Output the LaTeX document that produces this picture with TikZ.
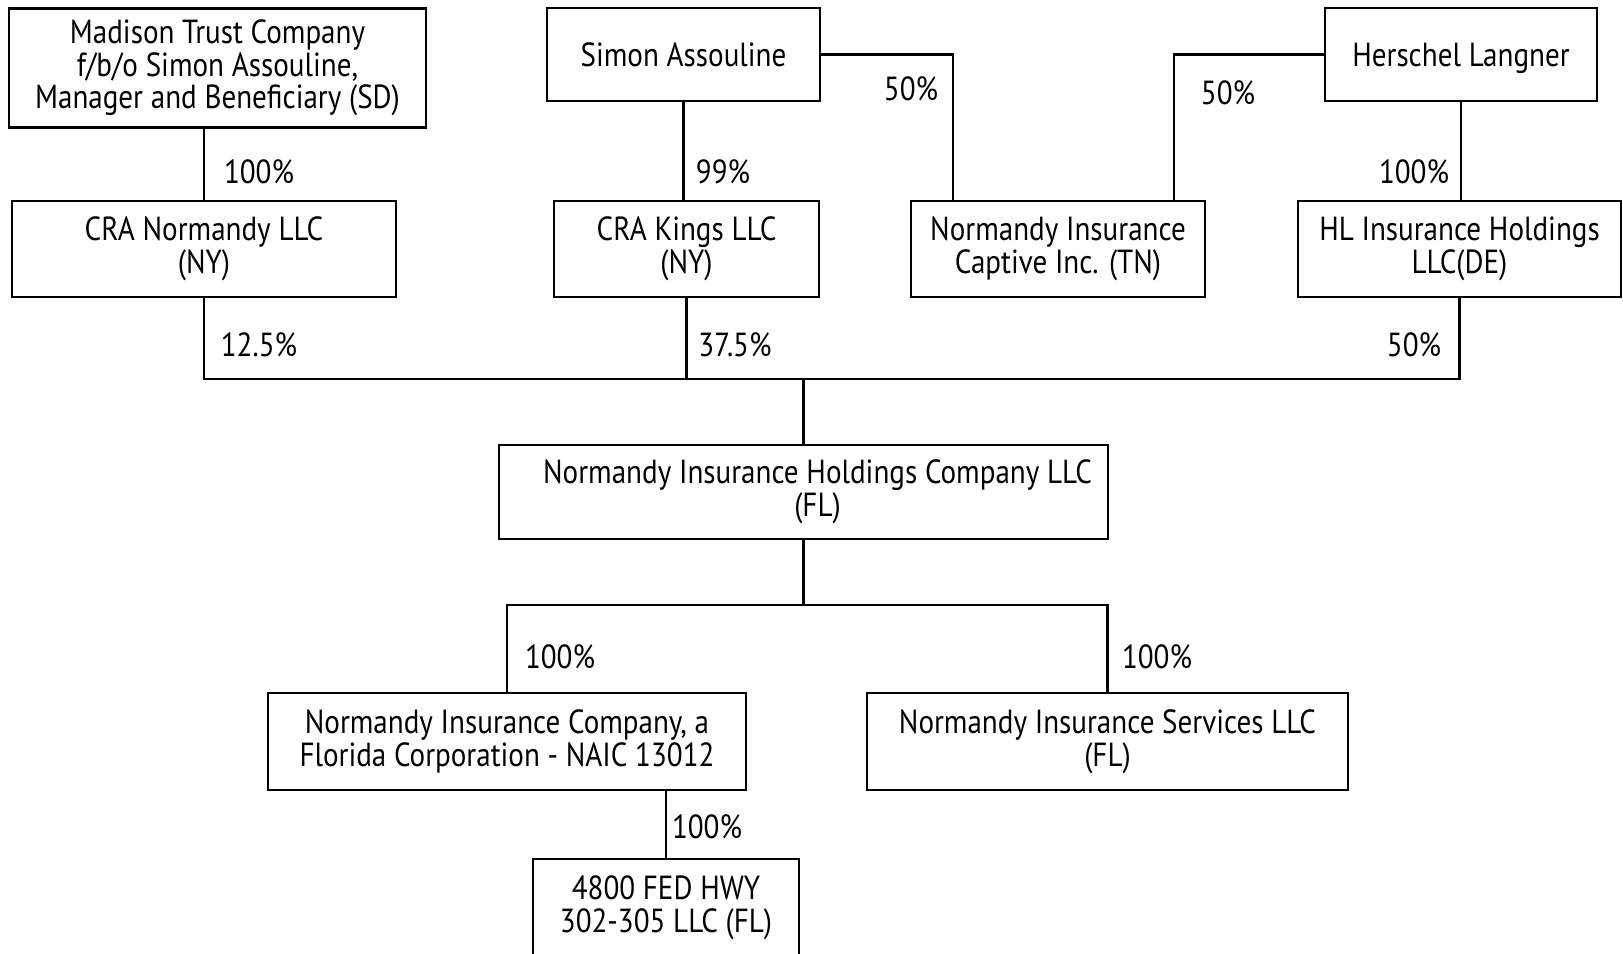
\documentclass[tikz,border=0pt]{standalone}
\usepackage{fontspec}
\setmainfont{PT Sans}[FakeStretch=0.87]
\usetikzlibrary{calc}

\begin{document}
\begin{tikzpicture}[x=0.01cm, y=-0.01cm]
\tikzset{boite/.style={draw, line width=0.7pt, align=center, inner sep=0pt,
    font=\fontsize{9.5}{9.3}\selectfont},
  pct/.style={font=\fontsize{9.5}{9.3}\selectfont, inner sep=0pt}}
\useasboundingbox (0,0) rectangle (1623,954);
% owners
\node[boite, minimum width=4.17cm, minimum height=1.19cm] (MT) at (217.5,68) {Madison Trust Company\\ f/b/o Simon Assouline,\\ Manager and Beneficiary (SD)};
\node[boite, minimum width=2.73cm, minimum height=0.93cm] (SA) at (683.5,54.5) {Simon Assouline};
\node[boite, minimum width=2.72cm, minimum height=0.93cm, text depth=0pt] (HLG) at (1461,54.5) {Herschel Langner};
% second row
\node[boite, minimum width=3.84cm, minimum height=0.96cm] (CN) at (204,249) {CRA Normandy LLC\\ (NY)};
\node[boite, minimum width=2.65cm, minimum height=0.96cm] (CK) at (686.5,249) {CRA Kings LLC\\ (NY)};
\node[boite, minimum width=2.94cm, minimum height=0.96cm] (NC) at (1058,249) {Normandy Insurance\\ Captive Inc. (TN)};
\node[boite, minimum width=3.23cm, minimum height=0.96cm] (HI) at (1459.5,249) {HL Insurance Holdings\\ LLC(DE)};
% holding and subsidiaries
\node[boite, minimum width=6.09cm, minimum height=0.94cm] (NH) at (803.5,492) {\hspace*{0.28cm}Normandy Insurance Holdings Company LLC\\ \hspace*{0.28cm}(FL)};
\node[boite, minimum width=4.78cm, minimum height=0.97cm] (NI) at (507,741.5) {Normandy Insurance Company, a\\ Florida Corporation - NAIC 13012};
\node[boite, minimum width=4.81cm, minimum height=0.97cm] (NS) at (1107.5,741.5) {Normandy Insurance Services LLC\\ (FL)};
\node[boite, minimum width=2.66cm, minimum height=0.98cm] (FH) at (666,908) {4800 FED HWY\\ 302-305 LLC (FL)};
\coordinate (bus) at (805,379);
\coordinate (bus2) at (805,605);
% lines
\draw[line width=0.7pt] (CN.north) -- (CN.north |- MT.south);
\draw[line width=0.7pt] (SA.south) -- (SA.south |- CK.north);
\draw[line width=0.7pt] (SA.east) -| ($(NC.north west)!0.146!(NC.north east)$);
\draw[line width=0.7pt] (HLG.west) -| ($(NC.north west)!0.891!(NC.north east)$);
\draw[line width=0.7pt] (HLG.south) -- (HLG.south |- HI.north);
\draw[line width=0.7pt] (CN.south) |- (bus) -| (HI.south);
\draw[line width=0.7pt] (CK.south) -- (CK.south |- bus);
\draw[line width=0.7pt] (NH.north) -- (NH.north |- bus);
\draw[line width=0.7pt] (NH.south) -- (NH.south |- bus2);
\draw[line width=0.7pt] (NI.north) |- (bus2) -| (NS.north);
\draw[line width=0.7pt] (FH.north) -- (FH.north |- NI.south);
% percentages
\node[pct] (P1) at (259,172) {100\%};
\node[pct] (P2) at (723,172) {99\%};
\node[pct] (P3) at (911,89) {50\%};
\node[pct] (P4) at (1228,93) {50\%};
\node[pct] (P5) at (1414,172) {100\%};
\node[pct] (P6) at (259,345) {12.5\%};
\node[pct] (P7) at (735,345) {37.5\%};
\node[pct] (P8) at (1414,345) {50\%};
\node[pct] (P9) at (560,657) {100\%};
\node[pct] (P10) at (1157,657) {100\%};
\node[pct] (P11) at (707,827) {100\%};
\end{tikzpicture}
\end{document}
